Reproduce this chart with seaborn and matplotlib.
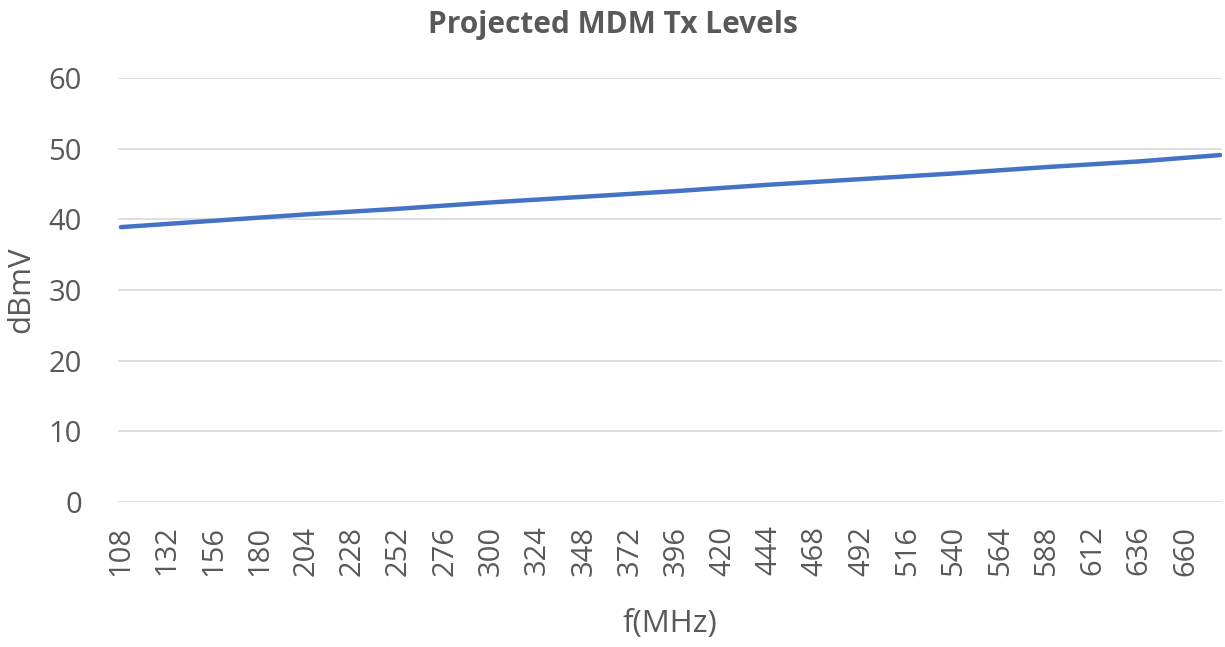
import numpy as np
import pandas as pd
import matplotlib.pyplot as plt
import seaborn as sns

# values
freq_mhz = [108, 156, 204, 252, 300, 348, 396, 444, 492, 540, 588, 636, 678]
level_dbmv = [38.9, 39.8, 40.7, 41.5, 42.4, 43.2, 44.0, 44.9, 45.7, 46.5, 47.4, 48.2, 49.1]
tick_freqs = list(range(108, 661, 24))
y_ticks = [0, 10, 20, 30, 40, 50, 60]

df = pd.DataFrame({"f": freq_mhz, "dBmV": level_dbmv})

sns.set_style("white")
plt.rcParams['font.family'] = ['Open Sans', 'DejaVu Sans']

grey = '#595959'
fig = plt.figure(figsize=(12.25, 6.47), dpi=100)
ax = fig.add_axes([0.0963, 0.2241, 0.9013, 0.6553])

sns.lineplot(data=df, x="f", y="dBmV", ax=ax, color='#4472C4', linewidth=3.2,
             solid_capstyle='round')

ax.set_xlim(106.5, 679)
ax.set_ylim(0, 60)
ax.set_yticks(y_ticks)
ax.set_xticks(tick_freqs)
ax.set_xticklabels([str(t) for t in tick_freqs], rotation=90)
ax.grid(axis='y', color='#D9D9D9', linewidth=1.2)
ax.set_axisbelow(True)
for s in ax.spines.values():
    s.set_visible(False)
ax.tick_params(axis='both', length=0, labelsize=21, colors=grey)
ax.tick_params(axis='x', pad=17)
ax.tick_params(axis='y', pad=26)

ax.set_xlabel('f(MHz)', fontsize=22.5, color=grey, labelpad=24)
ax.set_ylabel('dBmV', fontsize=22.5, color=grey, labelpad=9)
fig.suptitle('Projected MDM Tx Levels', fontsize=21.5, fontweight='bold', color=grey, y=0.985)

fig.savefig('out.png', dpi=100)
